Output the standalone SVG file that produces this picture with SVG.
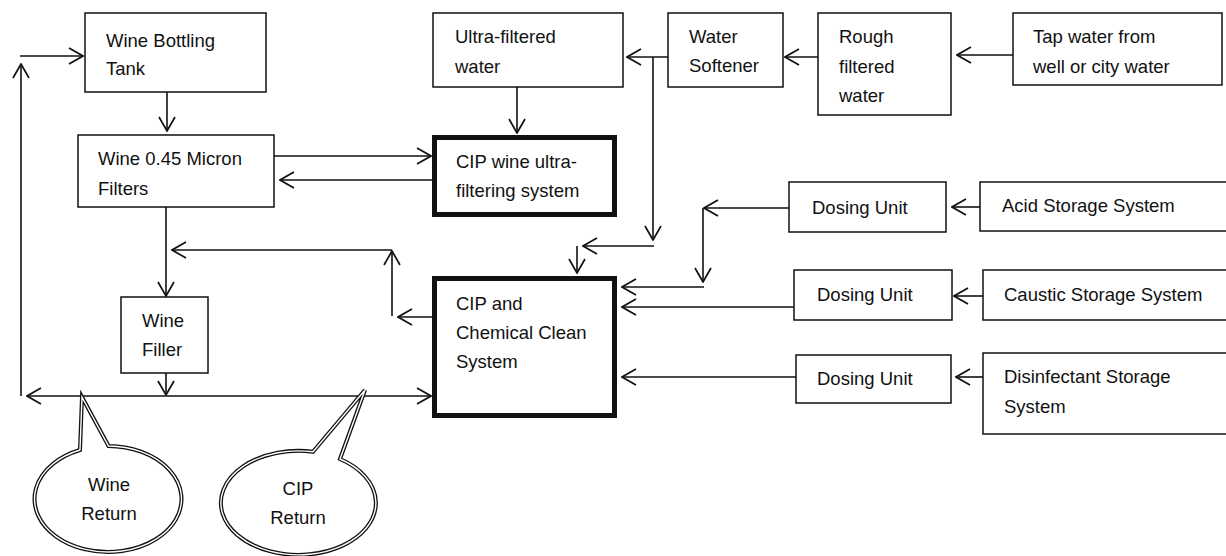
<svg xmlns="http://www.w3.org/2000/svg" width="1226" height="556" viewBox="0 0 1226 556">
<defs>
<marker id="ah" viewBox="0 0 16 18" refX="15" refY="9" markerWidth="16" markerHeight="18" markerUnits="userSpaceOnUse" orient="auto-start-reverse">
<path d="M1,1 L15,9 L1,17" fill="none" stroke="#111" stroke-width="1.7"/>
</marker>
<style>
.box{fill:#fff;stroke:#111;stroke-width:1.5}
.thick{fill:#fff;stroke:#111;stroke-width:5}
.t{font-family:"Liberation Sans",Arial,sans-serif;font-size:18.5px;fill:#111}
.c{text-anchor:middle}
.ln{fill:none;stroke:#111;stroke-width:1.6}
.co{fill:none;stroke:#111;stroke-width:4}
.ci{fill:none;stroke:#fff;stroke-width:1.4}
</style>
</defs>
<rect width="1226" height="556" fill="#fff"/>
<g id="connectors">
<path class="ln" d="M21,396 L21,64" marker-end="url(#ah)"/>
<path class="ln" d="M20,56 L83,56" marker-end="url(#ah)"/>
<path class="ln" d="M167,92 L167,131" marker-end="url(#ah)"/>
<path class="ln" d="M274,156 L431,156" marker-end="url(#ah)"/>
<path class="ln" d="M432,180 L280,180" marker-end="url(#ah)"/>
<path class="ln" d="M166,207 L166,296" marker-end="url(#ah)"/>
<path class="ln" d="M166,373 L166,395" marker-end="url(#ah)"/>
<path class="ln" d="M27,396 L431,396" marker-start="url(#ah)" marker-end="url(#ah)"/>
<path class="ln" d="M432,317 L398,317" marker-end="url(#ah)"/>
<path class="ln" d="M392,316 L392,251" marker-end="url(#ah)"/>
<path class="ln" d="M392,250 L172,250" marker-end="url(#ah)"/>
<path class="ln" d="M517,87 L517,133" marker-end="url(#ah)"/>
<path class="ln" d="M668,57 L627,57" marker-end="url(#ah)"/>
<path class="ln" d="M653,57 L653,240" marker-end="url(#ah)"/>
<path class="ln" d="M654,246 L583,246" marker-end="url(#ah)"/>
<path class="ln" d="M577,246 L577,273" marker-end="url(#ah)"/>
<path class="ln" d="M818,57 L785,57" marker-end="url(#ah)"/>
<path class="ln" d="M1013,55 L957,55" marker-end="url(#ah)"/>
<path class="ln" d="M980,207 L952,207" marker-end="url(#ah)"/>
<path class="ln" d="M789,208 L704,208" marker-end="url(#ah)"/>
<path class="ln" d="M703,208 L703,282" marker-end="url(#ah)"/>
<path class="ln" d="M704,287 L622,287" marker-end="url(#ah)"/>
<path class="ln" d="M983,296 L954,296" marker-end="url(#ah)"/>
<path class="ln" d="M794,307 L622,307" marker-end="url(#ah)"/>
<path class="ln" d="M983,377 L956,377" marker-end="url(#ah)"/>
<path class="ln" d="M796,377 L622,377" marker-end="url(#ah)"/>
</g>
<g id="wine-bottling-tank">
<rect class="box" x="85" y="13" width="181" height="79"/>
<text class="t" x="106" y="47">Wine Bottling</text>
<text class="t" x="106" y="75">Tank</text>
</g>
<g id="micron-filters">
<rect class="box" x="78" y="135" width="196" height="72"/>
<text class="t" x="98" y="165">Wine 0.45 Micron</text>
<text class="t" x="98" y="195">Filters</text>
</g>
<g id="wine-filler">
<rect class="box" x="121" y="297" width="87" height="76"/>
<text class="t" x="142" y="327">Wine</text>
<text class="t" x="142" y="356">Filler</text>
</g>
<g id="ultra-filtered-water">
<rect class="box" x="433" y="13" width="190" height="74"/>
<text class="t" x="455" y="43">Ultra-filtered</text>
<text class="t" x="455" y="73">water</text>
</g>
<g id="cip-wine-ultra">
<rect class="thick" x="434.5" y="137.5" width="180" height="77"/>
<text class="t" x="456" y="168">CIP wine ultra-</text>
<text class="t" x="456" y="197">filtering system</text>
</g>
<g id="cip-chemical-clean">
<rect class="thick" x="434.5" y="278.5" width="180" height="137"/>
<text class="t" x="456" y="310">CIP and</text>
<text class="t" x="456" y="339">Chemical Clean</text>
<text class="t" x="456" y="368">System</text>
</g>
<g id="water-softener">
<rect class="box" x="668" y="13" width="115" height="74"/>
<text class="t" x="689" y="43">Water</text>
<text class="t" x="689" y="72">Softener</text>
</g>
<g id="rough-filtered-water">
<rect class="box" x="818" y="13" width="133" height="102"/>
<text class="t" x="839" y="43">Rough</text>
<text class="t" x="839" y="73">filtered</text>
<text class="t" x="839" y="102">water</text>
</g>
<g id="tap-water">
<rect class="box" x="1013" y="13" width="209" height="72"/>
<text class="t" x="1033" y="43">Tap water from</text>
<text class="t" x="1033" y="73">well or city water</text>
</g>
<g id="dosing-unit-1">
<rect class="box" x="789" y="182" width="157" height="50"/>
<text class="t" x="812" y="214">Dosing Unit</text>
</g>
<g id="acid-storage">
<rect class="box" x="980" y="182" width="260" height="49"/>
<text class="t" x="1002" y="212">Acid Storage System</text>
</g>
<g id="dosing-unit-2">
<rect class="box" x="794" y="270" width="158" height="50"/>
<text class="t" x="817" y="301">Dosing Unit</text>
</g>
<g id="caustic-storage">
<rect class="box" x="983" y="270" width="260" height="50"/>
<text class="t" x="1004" y="301">Caustic Storage System</text>
</g>
<g id="dosing-unit-3">
<rect class="box" x="796" y="355" width="155" height="48"/>
<text class="t" x="817" y="385">Dosing Unit</text>
</g>
<g id="disinfectant-storage">
<rect class="box" x="983" y="353" width="260" height="81"/>
<text class="t" x="1004" y="383">Disinfectant Storage</text>
<text class="t" x="1004" y="413">System</text>
</g>
<g id="wine-return">
<path d="M82,397 L108.5,446 A73.5 53 0 1 1 80,450 Z" fill="#fff"/>
<path class="co" d="M82,397 L108.5,446 A73.5 53 0 1 1 80,450 Z"/>
<path class="ci" d="M82,397 L108.5,446 A73.5 53 0 1 1 80,450 Z"/>
<text class="t c" x="109" y="491">Wine</text>
<text class="t c" x="109" y="520">Return</text>
</g>
<g id="cip-return">
<path d="M313,451.8 L365,390 L340,459 A77.5 52 0 1 1 313,451.8 Z" fill="#fff"/>
<path class="co" d="M313,451.8 L365,390 L340,459 A77.5 52 0 1 1 313,451.8 Z"/>
<path class="ci" d="M313,451.8 L365,390 L340,459 A77.5 52 0 1 1 313,451.8 Z"/>
<text class="t c" x="298" y="495">CIP</text>
<text class="t c" x="298" y="524">Return</text>
</g>
</svg>
